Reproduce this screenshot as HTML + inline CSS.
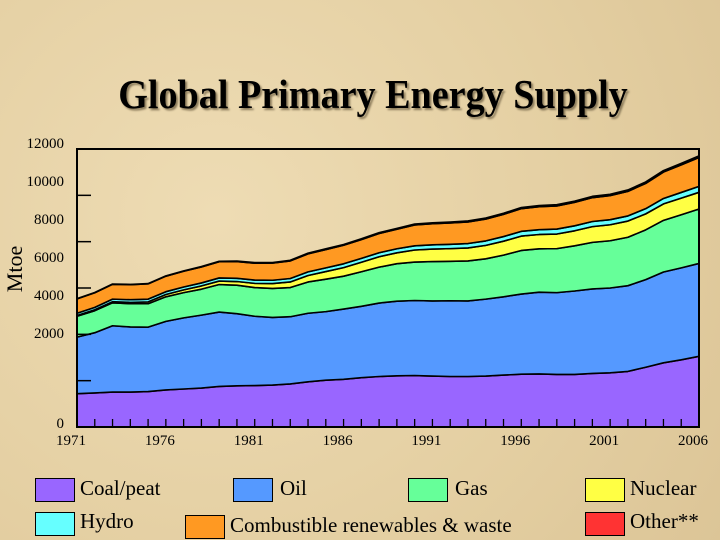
<!DOCTYPE html>
<html><head><meta charset="utf-8"><style>
body{margin:0;width:720px;height:540px;overflow:hidden;background:#e6d3a8;font-family:"Liberation Serif",serif;}
#bg{position:absolute;left:0;top:0;width:720px;height:540px;background:radial-gradient(circle at 30% 40%,#eedcb4 0,#e4cfa2 60%,#dcc597 100%);}
.t{position:absolute;color:#000;}
.lb{position:absolute;width:38px;height:22px;border:1.5px solid #000;}
.lt{position:absolute;font-size:21px;}
</style></head><body>
<div id="bg"></div>
<div class="t" style="left:0;width:746px;text-align:center;top:70px;font-size:41px;font-weight:bold;transform:scaleX(0.93);transform-origin:373px 0;text-shadow:2px 2px 2px #8a7a5a;">Global Primary Energy Supply</div>
<div class="t" style="left:-8px;top:256px;font-size:22px;transform:rotate(-90deg);">Mtoe</div>
<svg id="chart" width="720" height="540" style="position:absolute;left:0;top:0"></svg>
<div class="lb" style="left:35px;top:478px;background:#9966ff"></div><div class="lt" style="left:80px;top:476px">Coal/peat</div>
<div class="lb" style="left:233px;top:478px;background:#5599ff"></div><div class="lt" style="left:280px;top:476px">Oil</div>
<div class="lb" style="left:408px;top:478px;background:#66ff99"></div><div class="lt" style="left:455px;top:476px">Gas</div>
<div class="lb" style="left:585px;top:478px;background:#ffff44"></div><div class="lt" style="left:630px;top:476px">Nuclear</div>
<div class="lb" style="left:35px;top:512px;background:#66ffff"></div><div class="lt" style="left:80px;top:509px">Hydro</div>
<div class="lb" style="left:185px;top:515px;background:#ff9922"></div><div class="lt" style="left:230px;top:513px">Combustible renewables &amp; waste</div>
<div class="lb" style="left:585px;top:512px;background:#ff3333"></div><div class="lt" style="left:630px;top:509px">Other**</div>
<script>
const years=[1971,1972,1973,1974,1975,1976,1977,1978,1979,1980,1981,1982,1983,1984,1985,1986,1987,1988,1989,1990,1991,1992,1993,1994,1995,1996,1997,1998,1999,2000,2001,2002,2003,2004,2005,2006];
const coal=[1440,1470,1510,1510,1530,1600,1640,1680,1750,1780,1790,1810,1860,1950,2020,2060,2130,2180,2210,2220,2200,2180,2180,2200,2240,2280,2290,2270,2270,2310,2340,2400,2580,2770,2900,3050];
const oil=[2440,2600,2860,2810,2780,2960,3070,3150,3210,3110,2990,2920,2900,2960,2960,3030,3080,3170,3220,3240,3240,3270,3260,3320,3380,3460,3530,3530,3600,3650,3660,3700,3780,3920,3970,4010];
const gas=[900,950,990,1000,1010,1060,1090,1120,1190,1230,1240,1250,1260,1350,1400,1420,1490,1550,1620,1660,1700,1700,1730,1740,1800,1880,1870,1900,1950,2010,2040,2090,2150,2230,2290,2350];
const nuclear=[30,40,50,60,80,100,120,140,150,160,180,210,240,280,330,370,410,450,470,520,540,550,560,580,600,620,620,630,650,680,690,700,690,710,720,720];
const hydro=[100,105,110,115,118,120,122,128,135,140,142,145,150,155,160,165,168,172,175,180,185,186,190,193,200,205,208,213,215,220,218,222,225,235,245,255];
const combustible=[620,630,640,650,660,670,680,690,700,720,730,740,760,780,790,800,810,830,840,900,910,920,930,940,960,980,990,1000,1010,1030,1040,1060,1090,1140,1190,1250];
const other=[10,10,12,12,14,15,16,18,20,22,24,26,28,30,32,34,36,38,40,42,42,43,44,45,46,48,50,52,54,56,58,60,62,64,67,70];
const yTickLabels=["0","2000","4000","6000","8000","10000","12000"];
const xTickLabels=[1971,1976,1981,1986,1991,1996,2001,2006];
const series=[["coal",coal,"#9966ff"],["oil",oil,"#5599ff"],["gas",gas,"#66ff99"],["nuclear",nuclear,"#ffff44"],["hydro",hydro,"#66ffff"],["combustible",combustible,"#ff9922"],["other",other,"#ff3333"]];
const NS="http://www.w3.org/2000/svg",svg=document.getElementById('chart');
const L=77,R=699,T=149,B=427,YMAX=12000;
const xs=y=>L+(y-years[0])/(years[years.length-1]-years[0])*(R-L);
const ys=v=>B-v/YMAX*(B-T);
function mk(t,a){const e=document.createElementNS(NS,t);for(const k in a)e.setAttribute(k,a[k]);svg.appendChild(e);return e;}
let base=years.map(()=>0);
series.forEach(([n,vals,c])=>{
  const top=base.map((b,i)=>b+vals[i]);
  let d="M"+years.map((y,i)=>xs(y)+","+ys(top[i])).join("L");
  for(let i=years.length-1;i>=0;i--)d+="L"+xs(years[i])+","+ys(base[i]);
  const p=mk("path",{d:d+"Z",fill:c,stroke:"#000","stroke-width":"1.6","stroke-linejoin":"round"});
  
  
  base=top;
});
const f=mk("rect",{x:L,y:T,width:R-L,height:B-T,fill:"none",stroke:"#000","stroke-width":"2"});


yTickLabels.forEach((lab,i)=>{
  const v=i*2000;
  if(i>0&&i<6){const tk=mk("line",{x1:L,x2:L+14,y1:ys(v),y2:ys(v),stroke:"#000","stroke-width":"1.5"});
  
  }
  const labY=i==0?428:338-(i-1)*38;
  const t=mk("text",{x:64,y:labY,"text-anchor":"end","font-size":"15","font-family":"Liberation Serif, serif"});
  t.textContent=lab;
  
  
});
years.forEach(y=>{
  const tk=mk("line",{x1:xs(y),x2:xs(y),y1:B-8,y2:B,stroke:"#000","stroke-width":"1.3"});
  
  
});
xTickLabels.forEach(y=>{
  const t=mk("text",{x:xs(y)-6,y:445,"text-anchor":"middle","font-size":"15","font-family":"Liberation Serif, serif"});
  t.textContent=y;
  
  
});
</script>
</body></html>
